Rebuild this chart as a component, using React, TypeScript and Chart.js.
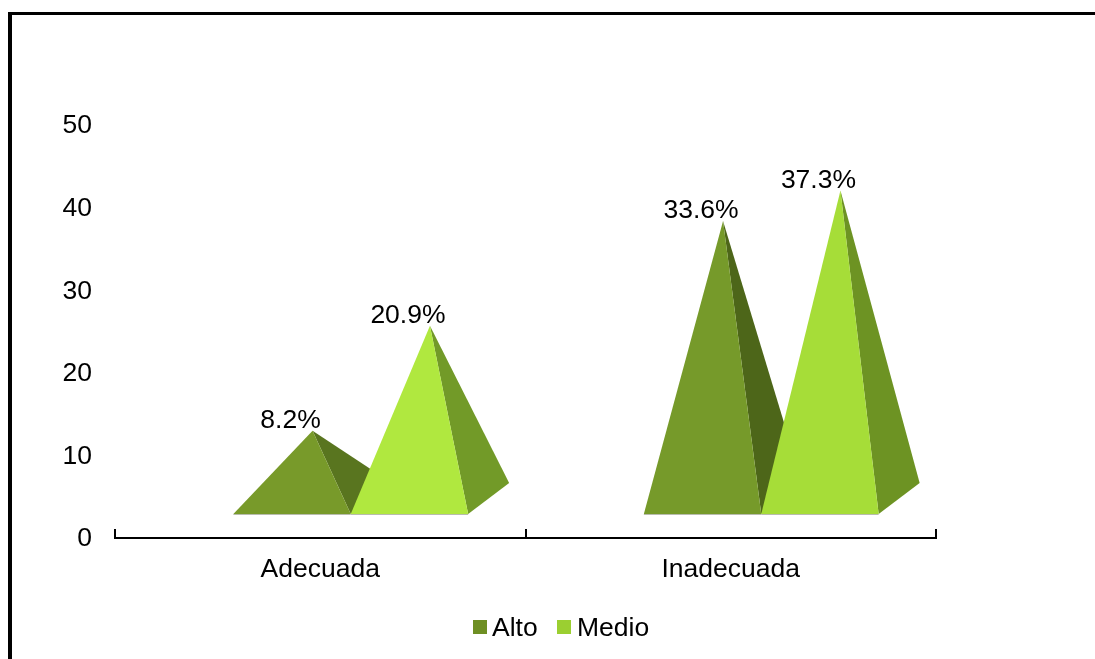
import React, { useEffect, useRef } from "react";
import { Chart, registerables } from "chart.js";

Chart.register(...registerables);

const categories = ["Adecuada", "Inadecuada"];
const seriesNames = ["Alto", "Medio"];
const altoValues = [8.2, 33.6];
const medioValues = [20.9, 37.3];
const valueLabels = [
  ["8.2%", "33.6%"],
  ["20.9%", "37.3%"],
];
const legendColors = ["#6e8f23", "#9bcf31"];
const faceColors = [
  ["#789a2a", "#769a2a"],
  ["#b0e83f", "#a6dd38"],
];
const sideColors = [
  ["#59751f", "#4d6619"],
  ["#729a28", "#6d9323"],
];

const FONT = '"Liberation Sans", Arial, sans-serif';
const FONT_SIZE = 26.5;

// Oblique projection of the pyramids' square footprint.
const GROUP_SHIFT = 30.5;
const DEPTH_X = 41;
const FLOOR_LIFT = 24;
const DEPTH_RISE = 31;

const pyramidPlugin = {
  id: "pyramids",
  beforeDatasetsDraw(chart: any) {
    const { ctx } = chart;
    const labelBoxes: [string, number, number][] = [];
    chart.data.datasets.forEach((_: any, di: number) => {
      chart.getDatasetMeta(di).data.forEach((bar: any, i: number) => {
        const left = bar.x - bar.width / 2 + GROUP_SHIFT;
        const right = left + bar.width;
        const front = bar.base - FLOOR_LIFT;
        const back = front - DEPTH_RISE;
        const apexX = (left + right) / 2 + DEPTH_X / 2;
        const apexY = bar.y - FLOOR_LIFT - DEPTH_RISE / 2;

        ctx.fillStyle = sideColors[di][i];
        ctx.beginPath();
        ctx.moveTo(apexX, apexY);
        ctx.lineTo(right, front);
        ctx.lineTo(right + DEPTH_X, back);
        ctx.closePath();
        ctx.fill();

        ctx.fillStyle = faceColors[di][i];
        ctx.beginPath();
        ctx.moveTo(apexX, apexY);
        ctx.lineTo(left, front);
        ctx.lineTo(right, front);
        ctx.closePath();
        ctx.fill();

        // Thin pale edge along the front of the base.
        ctx.strokeStyle = "#b8bcae";
        ctx.lineWidth = 1;
        ctx.beginPath();
        ctx.moveTo(left, front + 0.5);
        ctx.lineTo(right, front + 0.5);
        ctx.stroke();

        labelBoxes.push([valueLabels[di][i], apexX - 22, apexY - 2.5]);
      });
    });

    ctx.fillStyle = "#000";
    ctx.font = `${FONT_SIZE}px ${FONT}`;
    ctx.textAlign = "center";
    ctx.textBaseline = "alphabetic";
    labelBoxes.forEach(([text, x, y]) => ctx.fillText(text, x, y));
    return false;
  },
  afterDraw(chart: any) {
    // Compact key: small squares set tight against their names.
    const { ctx } = chart;
    const entries = [
      { x: 473, textX: 492 },
      { x: 557, textX: 577 },
    ];
    ctx.font = `${FONT_SIZE}px ${FONT}`;
    ctx.textAlign = "left";
    ctx.textBaseline = "alphabetic";
    seriesNames.forEach((name, i) => {
      ctx.fillStyle = legendColors[i];
      ctx.fillRect(entries[i].x, 620, 14, 14);
      ctx.fillStyle = "#000";
      ctx.fillText(name, entries[i].textX, 636);
    });
  },
};

export default function App() {
  const ref = useRef<HTMLCanvasElement>(null);

  useEffect(() => {
    const chart = new Chart(ref.current!, {
      type: "bar",
      data: {
        labels: categories,
        datasets: [
          { label: seriesNames[0], data: altoValues, backgroundColor: legendColors[0] },
          { label: seriesNames[1], data: medioValues, backgroundColor: legendColors[1] },
        ],
      },
      options: {
        responsive: false,
        animation: false,
        layout: { padding: { left: 0, top: 125, right: 159, bottom: 0 } },
        datasets: { bar: { categoryPercentage: 0.572, barPercentage: 1 } },
        plugins: { legend: { display: false }, tooltip: { enabled: false } },
        scales: {
          x: {
            afterFit: (s: any) => { s.height = 121; },
            grid: { drawOnChartArea: false, color: "#000", lineWidth: 2, tickLength: -9 },
            border: { color: "#000", width: 2 },
            ticks: { color: "#000", font: { family: FONT, size: FONT_SIZE }, padding: 25, maxRotation: 0 },
          },
          y: {
            min: 0,
            max: 50,
            afterFit: (s: any) => { s.width = 115; },
            grid: { display: false, drawTicks: false },
            border: { display: false },
            ticks: { stepSize: 10, color: "#000", font: { family: FONT, size: FONT_SIZE }, padding: 23, labelOffset: 1 },
          },
        },
      },
      plugins: [pyramidPlugin],
    } as any);
    return () => chart.destroy();
  }, []);

  return (
    <div style={{ position: "fixed", inset: 0, background: "#fff", overflow: "hidden" }}>
      <canvas ref={ref} width={1095} height={659} style={{ display: "block", position: "absolute", left: 0, top: 0 }} />
      <div
        style={{
          position: "absolute",
          left: 8,
          top: 12,
          right: 0,
          bottom: 0,
          borderLeft: "4px solid #000",
          borderTop: "3px solid #000",
        }}
      />
    </div>
  );
}
